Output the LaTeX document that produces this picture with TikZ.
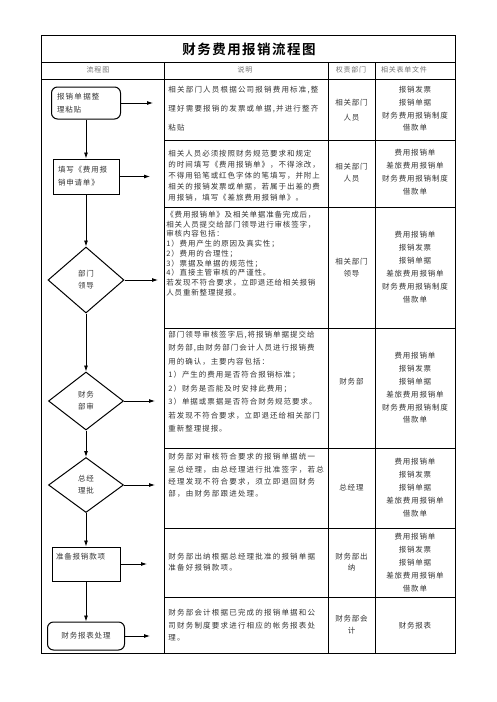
\documentclass[tikz,border=0pt]{standalone}
\usepackage{fontspec}
\setmainfont{Noto Sans CJK SC}[LetterSpace=11]
\newfontfamily\titlefont{Noto Sans CJK SC Bold}[LetterSpace=11]
\usetikzlibrary{shapes.geometric,arrows.meta}
\definecolor{ink}{HTML}{333333}
\definecolor{headgray}{HTML}{707070}
\newcommand{\fsz}[2]{\fontsize{#1}{#2}\selectfont}
\newcommand{\widesp}{\addfontfeature{LetterSpace=16}}
\newcommand{\midsp}{\addfontfeature{LetterSpace=13}}

\begin{document}
\begin{tikzpicture}[x=1pt,y=-1pt,line width=0.8pt,
  >={Latex[length=6pt,width=4pt]},
  txt/.style={anchor=west, align=left, inner sep=0pt, text=ink},
  dept/.style={align=center, inner sep=0pt, text=ink},
  head/.style={inner sep=0pt, text=headgray, font=\fsz{7}{9}},
  flowbox/.style={draw, line width=1pt, text=ink, font=\fsz{7.5}{13}, align=left, inner ysep=0pt},
  roundbox/.style={flowbox, rounded corners=6pt},
  decision/.style={draw, diamond, line width=1pt, inner sep=0pt, text=ink, align=center, font=\fsz{7.5}{12}},
  link/.style={->, line width=0.8pt}]
        \useasboundingbox (0,0) rectangle (496,702);

        \draw (41,35) rectangle (455,653);
        \draw (41,62) -- (455,62);
        \draw (41,79) -- (455,79);
        \draw (164,62) -- (164,653);
        \draw (328,62) -- (328,653);
        \draw (375,62) -- (375,653);
        \draw (164,140) -- (455,140);
        \draw (164,207) -- (455,207);
        \draw (164,328) -- (455,328);
        \draw (164,448) -- (455,448);
        \draw (164,528) -- (455,528);
        \draw (164,597) -- (455,597);

        \node[inner sep=0pt, font=\titlefont\fsz{13.5}{15}] (title) at (249,49) {财务费用报销流程图};
        \node[head] (hflow) at (98,70) {流程图};
        \node[head] (hnote) at (245,70) {说明};
        \node[head] (hdept) at (351,70) {权责部门};
        \node[head] (hform) at (404,70) {相关表单文件};

        \node[txt, font=\fsz{7.5}{19}\widesp] (d1) at (168,109) {相关部门人员根据公司报销费用标准,整\\理好需要报销的发票或单据,并进行整齐\\粘贴};
        \node[txt, font=\fsz{7.5}{11}\midsp] (d2) at (168,175.5) {相关人员必须按照财务规范要求和规定\\的时间填写《费用报销单》，不得涂改，\\不得用铅笔或红色字体的笔填写，并附上\\相关的报销发票或单据，若属于出差的费\\用报销，填写《差旅费用报销单》。};
        \node[txt, font=\fsz{7.5}{9.7}] (d3) at (166,253.5) {《费用报销单》及相关单据准备完成后，\\相关人员提交给部门领导进行审核签字，\\审核内容包括：\\1）费用产生的原因及真实性；\\2）费用的合理性；\\3）票据及单据的规范性；\\4）直接主管审核的严谨性。\\若发现不符合要求，立即退还给相关报销\\人员重新整理提报。};
        \node[txt, font=\fsz{7.5}{13.5}\midsp] (d4) at (168,381.5) {部门领导审核签字后,将报销单据提交给\\财务部,由财务部门会计人员进行报销费\\用的确认，主要内容包括：\\1）产生的费用是否符合报销标准；\\2）财务是否能及时安排此费用；\\3）单据或票据是否符合财务规范要求。\\若发现不符合要求，立即退还给相关部门\\重新整理提报。};
        \node[txt, font=\fsz{7.5}{12.3}\widesp] (d5) at (168,475.5) {财务部对审核符合要求的报销单据统一\\呈总经理，由总经理进行批准签字，若总\\经理发现不符合要求，须立即退回财务\\部，由财务部跟进处理。};
        \node[txt, font=\fsz{7.5}{11}\widesp] (d6) at (168,562.5) {财务部出纳根据总经理批准的报销单据\\准备好报销款项。};
        \node[txt, font=\fsz{7.5}{12.5}\widesp] (d7) at (168,625.5) {财务部会计根据已完成的报销单据和公\\司财务制度要求进行相应的帐务报表处\\理。};

        \node[dept, font=\fsz{7.5}{15}] (r1) at (351.5,110.5) {相关部门\\人员};
        \node[dept, font=\fsz{7.5}{12}] (r2) at (351.5,173) {相关部门\\人员};
        \node[dept, font=\fsz{7.5}{12}] (r3) at (351.5,268) {相关部门\\领导};
        \node[dept, font=\fsz{7.5}{12}] (r4) at (351.5,382) {财务部};
        \node[dept, font=\fsz{7.5}{12}] (r5) at (351.5,488) {总经理};
        \node[dept, font=\fsz{7.5}{11}] (r6) at (351.5,562.5) {财务部出\\纳};
        \node[dept, font=\fsz{7.5}{12}] (r7) at (351.5,625) {财务部会\\计};

        \node[dept, font=\fsz{7.5}{12.7}] (f1) at (415,109) {报销发票\\报销单据\\财务费用报销制度\\借款单};
        \node[dept, font=\fsz{7.5}{13}] (f2) at (415,172.5) {费用报销单\\差旅费用报销单\\财务费用报销制度\\借款单};
        \node[dept, font=\fsz{7.5}{13}] (f3) at (415,267.5) {费用报销单\\报销发票\\报销单据\\差旅费用报销单\\财务费用报销制度\\借款单};
        \node[dept, font=\fsz{7.5}{12.8}] (f4) at (415,388) {费用报销单\\报销发票\\报销单据\\差旅费用报销单\\财务费用报销制度\\借款单};
        \node[dept, font=\fsz{7.5}{13}] (f5) at (415,488) {费用报销单\\报销发票\\报销单据\\差旅费用报销单\\借款单};
        \node[dept, font=\fsz{7.5}{13}] (f6) at (415,563) {费用报销单\\报销发票\\报销单据\\差旅费用报销单\\借款单};
        \node[dept, font=\fsz{7.5}{12}] (f7) at (415,626) {财务报表};

        \node[roundbox, minimum width=69pt, minimum height=32pt, text width=58pt, inner xsep=5.5pt] (sort) at (86,103) {报\,销\,单\,据\,整\\理粘贴};
        \node[flowbox, minimum width=66pt, minimum height=35pt, text width=56pt, inner xsep=5pt] (fill) at (86,176.5) {填写《费用报\\销申请单》};
        \node[decision, minimum width=76pt, minimum height=66pt] (lead) at (86,280) {部门\\领导};
        \node[decision, minimum width=75pt, minimum height=58pt] (fin) at (86,401) {财务\\部审};
        \node[decision, minimum width=75pt, minimum height=55pt] (ceo) at (86,485) {总经\\理批};
        \node[flowbox, minimum width=68pt, minimum height=34pt, text width=60pt, inner xsep=4pt, text depth=15pt] (pay) at (86,564) {准备报销款项};
        \node[roundbox, minimum width=77pt, minimum height=28pt, align=center] (report) at (86,636) {财务报表处理};

        \draw[link] (sort) -- (fill);
        \draw[link] (fill) -- (lead);
        \draw[link] (lead) -- (fin);
        \draw[link] (fin) -- (ceo);
        \draw[link] (ceo) -- (pay);
        \draw[link] (pay) -- (report);

        \coordinate (o1) at (153,103);
        \coordinate (o2) at (150,176.5);
        \coordinate (o3) at (158,280);
        \coordinate (o4) at (155,401);
        \coordinate (o5) at (155,485);
        \coordinate (o6) at (147,564);
        \coordinate (o7) at (150,636);
        \draw[link] (sort) -- (o1);
        \draw[link] (fill) -- (o2);
        \draw[link] (lead) -- (o3);
        \draw[link] (fin) -- (o4);
        \draw[link] (ceo) -- (o5);
        \draw[link] (pay) -- (o6);
        \draw[link] (report) -- (o7);
\end{tikzpicture}
\end{document}
